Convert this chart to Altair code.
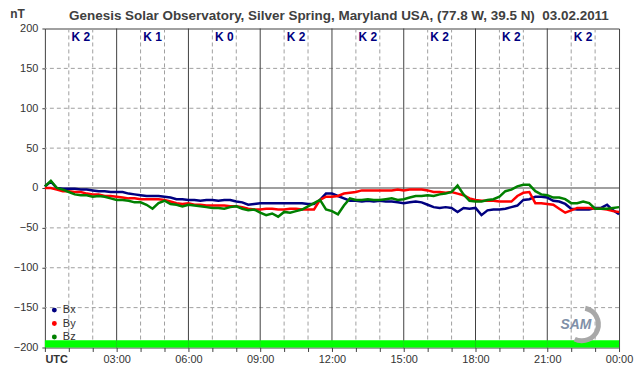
import altair as alt
import pandas as pd

TITLE = "Genesis Solar Observatory, Silver Spring, Maryland USA, (77.8 W, 39.5 N)\u00a0 03.02.2011"
FONT = "Liberation Sans"

series_names = ["Bx", "By", "Bz"]
series_colors = ["#000080", "#ff0000", "#008000"]

# quarter-hour samples, 00:00 .. 24:00 UTC
hours = [i * 0.25 for i in range(97)]

bx = [2, 8, 0, -1, -1, -1, -2, -2, -3, -4, -4, -5, -5, -5, -7, -8, -9, -10, -10, -10, -11, -12, -14, -14,
      -15, -15, -16, -15, -15, -16, -15, -15, -17, -18, -21, -20, -19, -19, -19, -19, -19, -19, -19, -19, -20, -20, -15, -7,
      -7, -10, -13, -16, -16, -17, -16, -17, -16, -17, -17, -18, -19, -18, -17, -18, -21, -24, -25, -24, -25, -30, -25, -26,
      -25, -34, -28, -27, -27, -26, -24, -22, -15, -14, -11, -11, -12, -16, -17, -20, -26, -27, -27, -27, -25, -25, -21, -28, -33]

by = [0, 0, -2, -4, -4, -5, -5, -7, -8, -8, -10, -10, -11, -12, -13, -13, -14, -14, -14, -14, -15, -17, -19, -20,
      -19, -21, -21, -22, -22, -22, -22, -23, -23, -24, -26, -27, -27, -26, -26, -27, -27, -26, -26, -27, -27, -27, -15, -11,
      -11, -10, -7, -6, -5, -3, -3, -3, -3, -3, -3, -2, -3, -2, -2, -2, -3, -5, -5, -6, -5, -7, -9, -13,
      -15, -16, -16, -16, -17, -17, -17, -10, -6, -5, -19, -19, -20, -21, -26, -31, -28, -25, -25, -25, -26, -26, -27, -29, -30]

bz = [2, 9, 0, -2, -5, -8, -9, -9, -11, -10, -11, -13, -15, -15, -16, -18, -18, -21, -26, -19, -16, -20, -21, -23,
      -21, -22, -23, -24, -25, -25, -26, -24, -23, -26, -28, -27, -31, -34, -32, -36, -30, -31, -29, -27, -23, -19, -15, -27,
      -29, -33, -22, -13, -15, -15, -14, -15, -15, -14, -13, -15, -14, -12, -10, -10, -9, -10, -8, -7, -5, 3, -8, -16,
      -17, -17, -15, -14, -11, -4, -2, 2, 4, 4, -4, -8, -9, -12, -12, -14, -19, -19, -17, -19, -26, -26, -26, -25, -24]

# K index per 3-hour block
k_start = [0, 3, 6, 9, 12, 15, 18, 21]
k_index = [2, 1, 0, 2, 2, 2, 2, 2]
k_label_level = 189
k_bar_low = -200
k_bar_high = -191

y_levels = list(range(-200, 201, 50))
hour_marks = list(range(0, 25))

logo_hour = [22.45]
logo_level = [-171]
logo_text = ["SAM"]

# ---------------- tables ----------------
lines_df = pd.DataFrame({
    "hour": hours * 3,
    "nT": bx + by + bz,
    "series": ["Bx"] * len(bx) + ["By"] * len(by) + ["Bz"] * len(bz),
    "order": [0] * len(bx) + [1] * len(by) + [2] * len(bz),
})
minor_h = pd.DataFrame({"hour": [h for h in hour_marks if h % 3 != 0]})
major_h = pd.DataFrame({"hour": [h for h in hour_marks if h % 3 == 0 and 0 < h < 24]})
minor_y = pd.DataFrame({"nT": [v for v in y_levels if v != 0 and abs(v) != 200]})
major_y = pd.DataFrame({"nT": [0]})
k_df = pd.DataFrame({
    "start": k_start,
    "end": [s + 3 for s in k_start],
    "mid": [s + 1.5 for s in k_start],
    "label": ["K " + str(k) for k in k_index],
    "level": [k_label_level] * len(k_start),
    "low": [k_bar_low] * len(k_start),
    "high": [k_bar_high] * len(k_start),
})
logo_df = pd.DataFrame({"hour": logo_hour, "nT": logo_level, "text": logo_text})

xs = alt.Scale(domain=[0, 24], nice=False, zero=False)
ys = alt.Scale(domain=[-200, 200], nice=False, zero=False)

xaxis = alt.Axis(
    values=hour_marks,
    labelExpr="datum.value == 0 ? 'UTC' : (datum.value % 3 != 0 ? '' : (datum.value == 24 ? '00:00' : (datum.value < 10 ? '0' : '') + datum.value + ':00'))",
    labelOverlap=False, grid=False, domain=False,
    tickSize=4, tickColor="#404040", labelFontSize=11, labelColor="#333333",
    labelPadding=2, title=None, labelFont=FONT,
    labelFontWeight={"condition": {"test": "datum.value == 0", "value": "bold"}, "value": "normal"},
    labelAlign={"condition": {"test": "datum.value == 0", "value": "left"}, "value": "center"},
)
yaxis = alt.Axis(
    values=y_levels, grid=False, domain=False, tickSize=3, tickColor="#404040",
    labelFontSize=11, labelColor="#333333", labelPadding=4, labelFont=FONT,
    title="nT", titleAngle=0, titleX=-28, titleY=-15, titleFontWeight="bold",
    titleFontSize=12, titleColor="#404040", titleAlign="center", titleBaseline="middle",
    titleFont=FONT,
)

X = lambda f="hour": alt.X(f"{f}:Q", scale=xs, axis=xaxis)
Y = lambda f="nT": alt.Y(f"{f}:Q", scale=ys, axis=yaxis)

grid_minor_v = alt.Chart(minor_h).mark_rule(color="#a0a0a0", strokeDash=[4, 3], strokeWidth=1).encode(x=X())
grid_minor_y = alt.Chart(minor_y).mark_rule(color="#a0a0a0", strokeDash=[4, 3], strokeWidth=1).encode(y=Y())
grid_major_v = alt.Chart(major_h).mark_rule(color="#404040", strokeWidth=1).encode(x=X())
grid_major_y = alt.Chart(major_y).mark_rule(color="#404040", strokeWidth=1).encode(y=Y())

kbar = alt.Chart(k_df).mark_rect(color="#00ff00").encode(
    x=X("start"), x2="end:Q", y=Y("low"), y2="high:Q")

klabels = alt.Chart(k_df).mark_text(
    font=FONT, fontSize=12, fontWeight="bold", color="#000080", baseline="middle"
).encode(x=X("mid"), y=Y("level"), text="label:N")

lines = alt.Chart(lines_df).mark_line(strokeWidth=2.5).encode(
    x=X(), y=Y(),
    color=alt.Color("series:N", scale=alt.Scale(domain=series_names, range=series_colors),
                    legend=alt.Legend(orient="none", legendX=4, legendY=277, title=None,
                                      symbolType="circle", symbolSize=6, symbolStrokeWidth=2.5,
                                      labelFontSize=11, labelColor="#333333", labelFont=FONT,
                                      rowPadding=0.5, padding=0, labelOffset=3)),
    order="order:Q",
)

logo_arc = alt.Chart(logo_df).mark_arc(
    radius=19, radius2=14, theta=0.2, theta2=3.6, color="#a8a8a8"
).encode(x=X(), y=Y())
logo = alt.Chart(logo_df).mark_text(
    font=FONT, fontSize=14, fontStyle="italic", fontWeight="bold", color="#8090a8", dx=-6, dy=1
).encode(x=X(), y=Y(), text="text:N")

chart = alt.layer(
    grid_minor_v, grid_minor_y, grid_major_v, grid_major_y, kbar, lines, klabels, logo_arc, logo
).properties(
    width=576, height=320,
    autosize=alt.AutoSizeParams(type="none"),
    padding={"left": 37, "top": 20, "right": 15, "bottom": 20},
    title=alt.Title(TITLE, anchor="middle", frame="group", fontSize=13.5, font=FONT, fontWeight="bold",
                    color="#404040", offset=9, dx=7, dy=24),
    background="white",
).configure_view(stroke="#404040", strokeWidth=1)

chart.save("out.html", embed_options={"renderer": "svg", "actions": False})
